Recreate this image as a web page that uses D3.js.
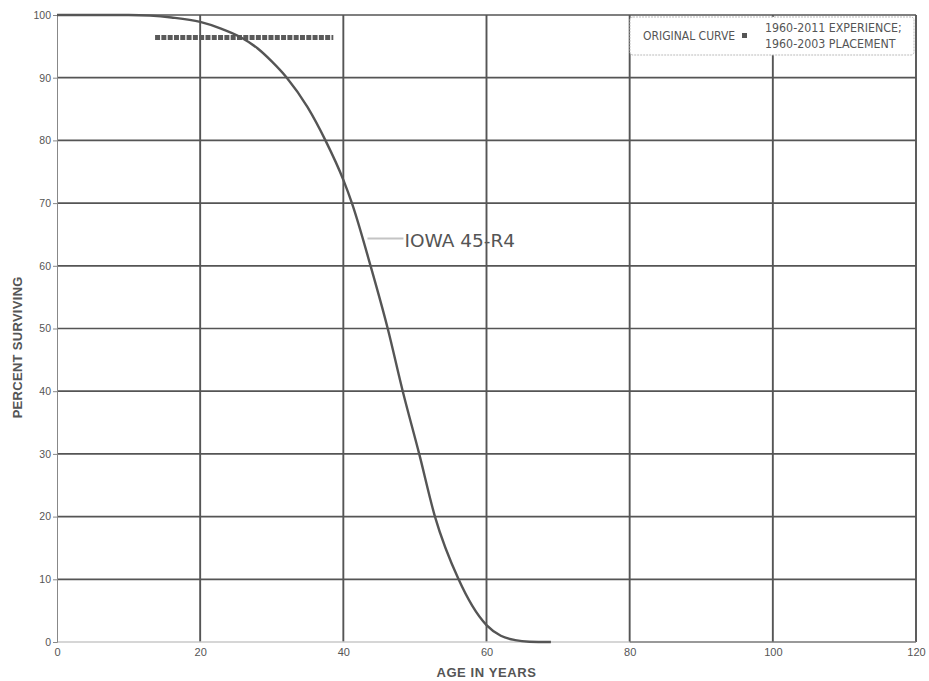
<!DOCTYPE html>
<html>
<head>
<meta charset="utf-8">
<script src="https://cdn.jsdelivr.net/npm/d3@7/dist/d3.min.js"></script>
<style>
  html, body { margin: 0; padding: 0; background: #fff; }
  svg { display: block; }
  text { font-family: "Liberation Sans", Arial, sans-serif; fill: #555; }
</style>
</head>
<body>
<svg id="chart" width="929" height="681"></svg>
<script>
// Iowa 45-R4 survivor curve (age in years, percent surviving)
const iowaAges = [0, 5, 10, 13, 16, 20, 23, 25.6, 28, 30, 32.1, 35, 37.5, 40, 41.2, 43.8,
                  46.2, 48.3, 50.6, 52.8, 56.1, 58, 60, 62, 64, 66, 69];
const iowaPct  = [100, 100, 100, 99.9, 99.6, 98.9, 97.8, 96.5, 94.7, 92.6, 90, 85.3, 80, 73.7, 70, 60,
                  50, 40, 30, 20, 10, 5.8, 2.7, 1.0, 0.3, 0.05, 0];

// Original curve observed from the 1960-2011 experience band
const originalAges = [13.7, 15, 16, 17, 18, 19, 20, 21, 22, 23, 24, 25, 26, 27, 28, 29, 30, 31, 32, 33, 34, 35, 36, 37, 38, 38.6];
const originalPct  = [96.4, 96.4, 96.4, 96.4, 96.4, 96.4, 96.4, 96.4, 96.4, 96.4, 96.4, 96.4, 96.4, 96.4, 96.4, 96.4, 96.4, 96.4, 96.4, 96.4, 96.4, 96.4, 96.4, 96.4, 96.4, 96.4];

const xTicks = [0, 20, 40, 60, 80, 100, 120];
const yTicks = [0, 10, 20, 30, 40, 50, 60, 70, 80, 90, 100];

const curveLabel = "IOWA 45-R4";
const legendKey = "ORIGINAL CURVE";
const legendLines = ["1960-2011 EXPERIENCE;", "1960-2003 PLACEMENT"];

const svg = d3.select("#chart");
const margin = { left: 57, right: 13, top: 15, bottom: 39 };
const W = 929, H = 681;

const x = d3.scaleLinear().domain([0, 120]).range([margin.left, W - margin.right]);
const y = d3.scaleLinear().domain([0, 100]).range([H - margin.bottom, margin.top]);

const ink = "#555";

// horizontal grid
svg.append("g").selectAll("line")
  .data(yTicks.filter(d => d > 0))
  .join("line")
  .attr("x1", x(0)).attr("x2", x(120))
  .attr("y1", d => y(d)).attr("y2", d => y(d))
  .attr("stroke", ink).attr("stroke-width", 1.7);

// vertical grid
svg.append("g").selectAll("line")
  .data(xTicks.filter(d => d > 0))
  .join("line")
  .attr("x1", d => x(d)).attr("x2", d => x(d))
  .attr("y1", y(0)).attr("y2", y(100))
  .attr("stroke", ink).attr("stroke-width", 1.9);

// baseline: light to age 80, darker beyond
svg.append("line")
  .attr("x1", x(0)).attr("x2", x(80)).attr("y1", y(0)).attr("y2", y(0))
  .attr("stroke", "#c8c8c8").attr("stroke-width", 1.5);
svg.append("line")
  .attr("x1", x(80)).attr("x2", x(120)).attr("y1", y(0)).attr("y2", y(0))
  .attr("stroke", "#777").attr("stroke-width", 1.5);

// left axis
const yAxis = d3.axisLeft(y).tickValues(yTicks).tickSize(4).tickPadding(2);
const gy = svg.append("g").attr("transform", `translate(${x(0)},0)`).call(yAxis);
gy.select(".domain").attr("stroke", "#888").attr("stroke-width", 1);
gy.selectAll(".tick line").attr("stroke", "#888");
gy.selectAll(".tick text").style("font-size", "10.5px").attr("fill", "#666")
  .style("font-family", "'Liberation Sans Narrow', 'Liberation Sans', sans-serif");

// bottom axis
const xAxis = d3.axisBottom(x).tickValues(xTicks).tickSize(0).tickPadding(6);
const gx = svg.append("g").attr("transform", `translate(0,${y(0)})`).call(xAxis);
gx.select(".domain").remove();
gx.selectAll(".tick text").style("font-size", "11px").attr("fill", "#666")
  .style("font-family", "'Liberation Sans Narrow', 'Liberation Sans', sans-serif");

// axis titles
svg.append("text")
  .attr("x", x(60)).attr("y", 677)
  .attr("text-anchor", "middle")
  .style("font-size", "13px").style("font-weight", "bold").style("letter-spacing", "0.6px")
  .attr("fill", "#5a5a5a")
  .text("AGE IN YEARS");
svg.append("text")
  .attr("transform", `translate(22,${y(47)}) rotate(-90)`)
  .attr("text-anchor", "middle")
  .style("font-size", "13px").style("font-weight", "bold").style("letter-spacing", "0.3px")
  .attr("fill", "#5a5a5a")
  .text("PERCENT SURVIVING");

// original curve (dotted band of points)
const origLine = d3.line().x((d, i) => x(originalAges[i])).y((d, i) => y(originalPct[i]));
svg.append("path")
  .attr("d", origLine(originalAges))
  .attr("fill", "none")
  .attr("stroke", "#5a5a5a")
  .attr("stroke-width", 5)
  .attr("stroke-dasharray", "5,1.3");

// Iowa curve
const iowaLine = d3.line()
  .x((d, i) => x(iowaAges[i]))
  .y((d, i) => y(iowaPct[i]))
  .curve(d3.curveMonotoneX);
svg.append("path")
  .attr("d", iowaLine(iowaAges))
  .attr("fill", "none")
  .attr("stroke", ink)
  .attr("stroke-width", 2.4);

// curve label with leader
const labAge = 48.4, labPct = 63.7;
svg.append("line")
  .attr("x1", x(labAge) - 36).attr("x2", x(labAge)).attr("y1", y(labPct) - 4).attr("y2", y(labPct) - 4)
  .attr("stroke", "#c4c4c4").attr("stroke-width", 2);
svg.append("text")
  .attr("x", x(labAge) + 1).attr("y", y(labPct) + 4)
  .style("font-size", "18.5px")
  .style("font-family", "'DejaVu Sans', sans-serif")
  .attr("fill", "#555")
  .text(curveLabel);

// legend
const lg = svg.append("g");
lg.append("rect")
  .attr("x", 630).attr("y", 17).attr("width", 284).attr("height", 38).attr("rx", 3)
  .attr("fill", "#fff").attr("stroke", "#bbb").attr("stroke-width", 1)
  .attr("stroke-dasharray", "2,1");
const legendFont = "'DejaVu Sans Condensed', 'Liberation Sans Narrow', sans-serif";
lg.append("text")
  .attr("x", 643).attr("y", 40)
  .style("font-size", "12px")
  .style("font-family", legendFont)
  .text(legendKey);
lg.append("rect")
  .attr("x", 742).attr("y", 33).attr("width", 5).attr("height", 5).attr("fill", "#555");
lg.selectAll("text.ll")
  .data(legendLines)
  .join("text")
  .attr("class", "ll")
  .attr("x", 765).attr("y", (d, i) => 32 + i * 16)
  .style("font-size", "12.3px")
  .style("font-family", legendFont)
  .text(d => d);
</script>
</body>
</html>
